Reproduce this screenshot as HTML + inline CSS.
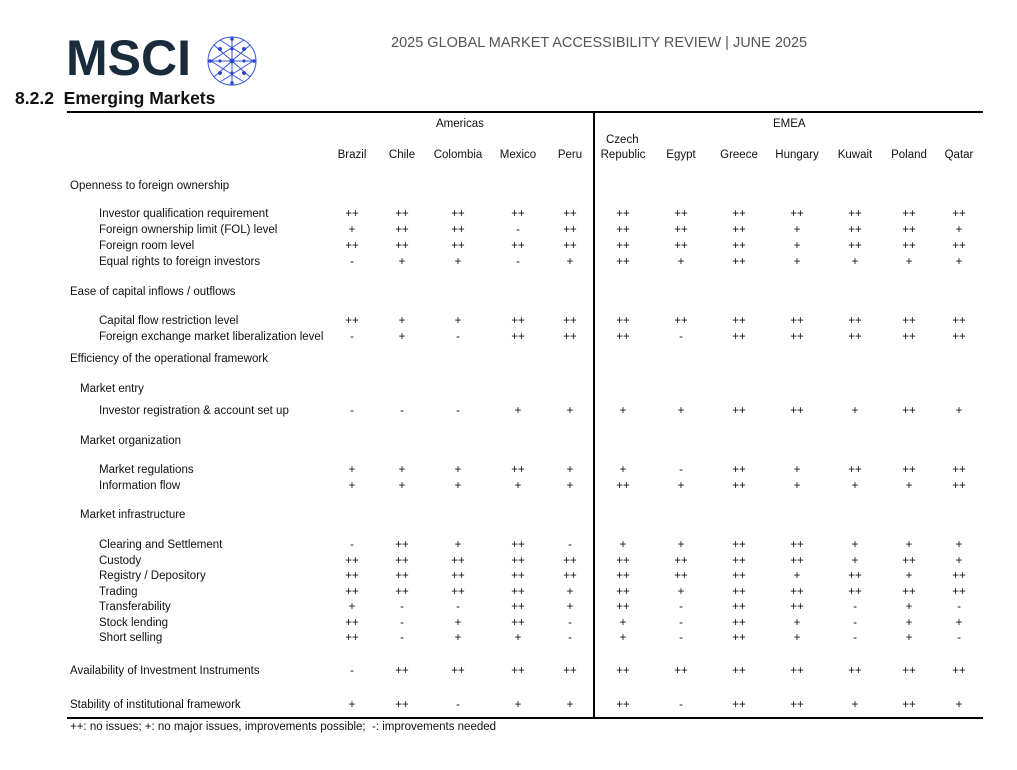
<!DOCTYPE html>
<html><head><meta charset="utf-8"><style>
body{margin:0;background:#fff;font-family:"Liberation Sans",sans-serif;color:#111}
#p{position:relative;width:1017px;height:770px;overflow:hidden}
.a{position:absolute;white-space:nowrap}
.r{position:absolute;left:0;width:1017px;height:14px;font-size:11.5px;line-height:14px}
.r span{position:absolute;transform:translateX(-50%);top:0}
.r span:nth-child(1){left:352px}.r span:nth-child(2){left:402px}.r span:nth-child(3){left:458px}
.r span:nth-child(4){left:518px}.r span:nth-child(5){left:570px}.r span:nth-child(6){left:623px}
.r span:nth-child(7){left:681px}.r span:nth-child(8){left:739px}.r span:nth-child(9){left:797px}
.r span:nth-child(10){left:855px}.r span:nth-child(11){left:909px}.r span:nth-child(12){left:959px}
.l{position:absolute;font-size:11.5px;line-height:14px;white-space:nowrap}
</style></head><body><div id="p">
<div class="a" style="left:66px;top:28px;font-size:50px;font-weight:bold;color:#1a2b3c;letter-spacing:0px;line-height:60px">MSCI</div>
<svg class="a" style="left:205px;top:34px" width="54" height="54" viewBox="0 0 54 54" stroke="#3a55d8" fill="none" stroke-width="1">
<circle cx="27" cy="27" r="24"/>
<path d="M9 11L45 43M9 43L45 11M3 27H51M27 3V51M15 6L48 27L15 48M39 6L6 27L39 48"/>
<g fill="#2a45d0" stroke="none"><circle cx="27" cy="27" r="2.5"/><circle cx="15" cy="15" r="2"/><circle cx="39" cy="15" r="2"/><circle cx="15" cy="39" r="2"/><circle cx="39" cy="39" r="2"/><circle cx="27" cy="5" r="1.8"/><circle cx="5" cy="27" r="1.8"/><circle cx="49" cy="27" r="1.8"/><circle cx="27" cy="49" r="1.8"/><circle cx="39" cy="27" r="1.6"/><circle cx="15" cy="27" r="1.6"/><circle cx="27" cy="39" r="1.6"/><circle cx="27" cy="15" r="1.6"/></g></svg>
<div class="a" style="left:391px;top:35px;font-size:14.5px;color:#555">2025 GLOBAL MARKET ACCESSIBILITY REVIEW | JUNE 2025</div>
<div class="a" style="left:15px;top:88px;font-size:17.5px;font-weight:bold">8.2.2&nbsp; Emerging Markets</div>
<div class="a" style="left:67px;top:111px;width:916px;height:2px;background:#000"></div>
<div class="a" style="left:67px;top:717px;width:916px;height:2px;background:#000"></div>
<div class="a" style="left:593px;top:112px;width:2px;height:606px;background:#000"></div>
<div class="l" style="left:436px;top:117px">Americas</div>
<div class="l" style="left:773px;top:117px">EMEA</div>
<div class="l" style="left:606px;top:133px">Czech</div>
<div class="r" style="top:148px"><span>Brazil</span><span>Chile</span><span>Colombia</span><span>Mexico</span><span>Peru</span><span>Republic</span><span>Egypt</span><span>Greece</span><span>Hungary</span><span>Kuwait</span><span>Poland</span><span>Qatar</span></div>
<div class="l" style="left:70px;top:179px">Openness to foreign ownership</div>
<div class="l" style="left:99px;top:207px">Investor qualification requirement</div>
<div class="r" style="top:207px"><span>++</span><span>++</span><span>++</span><span>++</span><span>++</span><span>++</span><span>++</span><span>++</span><span>++</span><span>++</span><span>++</span><span>++</span></div>
<div class="l" style="left:99px;top:223px">Foreign ownership limit (FOL) level</div>
<div class="r" style="top:223px"><span>+</span><span>++</span><span>++</span><span>-</span><span>++</span><span>++</span><span>++</span><span>++</span><span>+</span><span>++</span><span>++</span><span>+</span></div>
<div class="l" style="left:99px;top:239px">Foreign room level</div>
<div class="r" style="top:239px"><span>++</span><span>++</span><span>++</span><span>++</span><span>++</span><span>++</span><span>++</span><span>++</span><span>+</span><span>++</span><span>++</span><span>++</span></div>
<div class="l" style="left:99px;top:255px">Equal rights to foreign investors</div>
<div class="r" style="top:255px"><span>-</span><span>+</span><span>+</span><span>-</span><span>+</span><span>++</span><span>+</span><span>++</span><span>+</span><span>+</span><span>+</span><span>+</span></div>
<div class="l" style="left:70px;top:285px">Ease of capital inflows / outflows</div>
<div class="l" style="left:99px;top:314px">Capital flow restriction level</div>
<div class="r" style="top:314px"><span>++</span><span>+</span><span>+</span><span>++</span><span>++</span><span>++</span><span>++</span><span>++</span><span>++</span><span>++</span><span>++</span><span>++</span></div>
<div class="l" style="left:99px;top:330px">Foreign exchange market liberalization level</div>
<div class="r" style="top:330px"><span>-</span><span>+</span><span>-</span><span>++</span><span>++</span><span>++</span><span>-</span><span>++</span><span>++</span><span>++</span><span>++</span><span>++</span></div>
<div class="l" style="left:70px;top:352px">Efficiency of the operational framework</div>
<div class="l" style="left:80px;top:382px">Market entry</div>
<div class="l" style="left:99px;top:404px">Investor registration &amp; account set up</div>
<div class="r" style="top:404px"><span>-</span><span>-</span><span>-</span><span>+</span><span>+</span><span>+</span><span>+</span><span>++</span><span>++</span><span>+</span><span>++</span><span>+</span></div>
<div class="l" style="left:80px;top:434px">Market organization</div>
<div class="l" style="left:99px;top:463px">Market regulations</div>
<div class="r" style="top:463px"><span>+</span><span>+</span><span>+</span><span>++</span><span>+</span><span>+</span><span>-</span><span>++</span><span>+</span><span>++</span><span>++</span><span>++</span></div>
<div class="l" style="left:99px;top:479px">Information flow</div>
<div class="r" style="top:479px"><span>+</span><span>+</span><span>+</span><span>+</span><span>+</span><span>++</span><span>+</span><span>++</span><span>+</span><span>+</span><span>+</span><span>++</span></div>
<div class="l" style="left:80px;top:508px">Market infrastructure</div>
<div class="l" style="left:99px;top:538px">Clearing and Settlement</div>
<div class="r" style="top:538px"><span>-</span><span>++</span><span>+</span><span>++</span><span>-</span><span>+</span><span>+</span><span>++</span><span>++</span><span>+</span><span>+</span><span>+</span></div>
<div class="l" style="left:99px;top:554px">Custody</div>
<div class="r" style="top:554px"><span>++</span><span>++</span><span>++</span><span>++</span><span>++</span><span>++</span><span>++</span><span>++</span><span>++</span><span>+</span><span>++</span><span>+</span></div>
<div class="l" style="left:99px;top:569px">Registry / Depository</div>
<div class="r" style="top:569px"><span>++</span><span>++</span><span>++</span><span>++</span><span>++</span><span>++</span><span>++</span><span>++</span><span>+</span><span>++</span><span>+</span><span>++</span></div>
<div class="l" style="left:99px;top:585px">Trading</div>
<div class="r" style="top:585px"><span>++</span><span>++</span><span>++</span><span>++</span><span>+</span><span>++</span><span>+</span><span>++</span><span>++</span><span>++</span><span>++</span><span>++</span></div>
<div class="l" style="left:99px;top:600px">Transferability</div>
<div class="r" style="top:600px"><span>+</span><span>-</span><span>-</span><span>++</span><span>+</span><span>++</span><span>-</span><span>++</span><span>++</span><span>-</span><span>+</span><span>-</span></div>
<div class="l" style="left:99px;top:616px">Stock lending</div>
<div class="r" style="top:616px"><span>++</span><span>-</span><span>+</span><span>++</span><span>-</span><span>+</span><span>-</span><span>++</span><span>+</span><span>-</span><span>+</span><span>+</span></div>
<div class="l" style="left:99px;top:631px">Short selling</div>
<div class="r" style="top:631px"><span>++</span><span>-</span><span>+</span><span>+</span><span>-</span><span>+</span><span>-</span><span>++</span><span>+</span><span>-</span><span>+</span><span>-</span></div>
<div class="l" style="left:70px;top:664px">Availability of Investment Instruments</div>
<div class="r" style="top:664px"><span>-</span><span>++</span><span>++</span><span>++</span><span>++</span><span>++</span><span>++</span><span>++</span><span>++</span><span>++</span><span>++</span><span>++</span></div>
<div class="l" style="left:70px;top:698px">Stability of institutional framework</div>
<div class="r" style="top:698px"><span>+</span><span>++</span><span>-</span><span>+</span><span>+</span><span>++</span><span>-</span><span>++</span><span>++</span><span>+</span><span>++</span><span>+</span></div>
<div class="l" style="left:70px;top:720px">++: no issues; +: no major issues, improvements possible;&nbsp; -: improvements needed</div>
</div></body></html>
